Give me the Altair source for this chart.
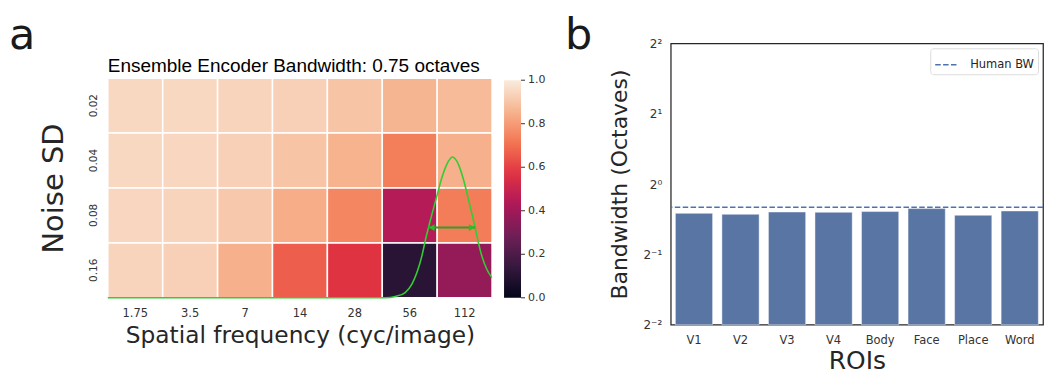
import altair as alt
import pandas as pd

# ---------------- panel a: heatmap data ----------------
sf_labels = ["1.75", "3.5", "7", "14", "28", "56", "112"]
noise_labels = ["0.02", "0.04", "0.08", "0.16"]
acc_002 = [0.95, 0.95, 0.94, 0.93, 0.90, 0.86, 0.875]
acc_004 = [0.95, 0.945, 0.93, 0.90, 0.855, 0.735, 0.85]
acc_008 = [0.945, 0.94, 0.91, 0.84, 0.75, 0.45, 0.73]
acc_016 = [0.94, 0.93, 0.85, 0.665, 0.57, 0.11, 0.37]
rocket = ["#03051a", "#35193e", "#701f57", "#ad1759",
          "#e13342", "#f37651", "#f6b48f", "#faebdd"]
cbar_ticks = [0.0, 0.2, 0.4, 0.6, 0.8, 1.0]

# tuning curve (x in column units 0..7, y as fraction of heatmap height)
curve_x = [0.0, 5.055, 5.236, 5.418, 5.54, 5.631, 5.722, 5.782, 5.842, 5.904,
           5.995, 6.085, 6.176, 6.278, 6.387, 6.478, 6.569, 6.642, 6.691,
           6.751, 6.813, 6.904, 6.995]
curve_y = [0.0, 0.0, 0.006, 0.024, 0.062, 0.115, 0.191, 0.259, 0.320, 0.380,
           0.464, 0.547, 0.608, 0.641, 0.608, 0.540, 0.449, 0.373, 0.320,
           0.251, 0.191, 0.130, 0.092]
arrow_x = [5.842, 6.691]
arrow_y = [0.32, 0.32]
head_x = [5.90, 6.63]
head_shape = ["triangle-left", "triangle-right"]

panel_a_title = ["Ensemble Encoder Bandwidth: 0.75 octaves"]

# ---------------- panel b: bar data ----------------
rois = ["V1", "V2", "V3", "V4", "Body", "Face", "Place", "Word"]
roi_bw = [0.749, 0.742, 0.759, 0.757, 0.762, 0.785, 0.735, 0.767]
human_bw = [0.796]
human_label = ["Human BW"]
ytick_vals = [0.25, 0.5, 1, 2, 4]
ytick_text = ["2\u207b\u00b2", "2\u207b\u00b9", "2\u2070", "2\u00b9", "2\u00b2"]

letters_a = ["a"]
letters_b = ["b"]

# ---------------- build tables ----------------
rows = []
for nl, vals in zip(noise_labels, [acc_002, acc_004, acc_008, acc_016]):
    for s, v in zip(sf_labels, vals):
        rows.append({"sf": s, "noise": nl, "acc": v})
heat_df = pd.DataFrame(rows)
curve_df = pd.DataFrame({"x": curve_x, "y": curve_y})
arrow_df = pd.DataFrame({"x": arrow_x, "y": arrow_y})
head_df = pd.DataFrame({"x": head_x, "y": arrow_y, "shape": head_shape})
cbtick_df = pd.DataFrame({"v": cbar_ticks})
bar_df = pd.DataFrame({"roi": rois, "bw": roi_bw})
human_df = pd.DataFrame({"bw": human_bw, "label": human_label})

TXT = "#262626"
LBL = "#333333"

# panel a group is 255 px tall; the heatmap fills its lower 220 px
HM_TOP, HM_BOT = 35, 255
CB_X, CB_W, CB_TOP, CB_LEN = 397, 17, HM_TOP + 2, 218

heat = alt.Chart(heat_df).mark_rect(stroke="white", strokeWidth=1.5).encode(
    x=alt.X("sf:O", sort=sf_labels, title="Spatial frequency (cyc/image)",
            scale=alt.Scale(paddingInner=0, paddingOuter=0),
            axis=alt.Axis(labelAngle=0, labelFontSize=11.5, labelColor=LBL,
                          ticks=False, tickSize=0, domain=False, labelPadding=10,
                          titleFontSize=23.3, titleColor=TXT, titleFontWeight="normal",
                          titlePadding=5)),
    y=alt.Y("noise:O", sort=noise_labels, title="Noise SD",
            scale=alt.Scale(paddingInner=0, paddingOuter=0, range=[HM_TOP, HM_BOT]),
            axis=alt.Axis(labelAngle=270, labelAlign="center", labelBaseline="bottom",
                          labelFontSize=10.5, labelColor=LBL, ticks=False, tickSize=0,
                          domain=False, labelPadding=9, titleFontSize=29,
                          titleColor=TXT, titleFontWeight="normal", titlePadding=20)),
    color=alt.Color("acc:Q",
                    scale=alt.Scale(domain=[0, 1], range=rocket, interpolate="rgb"),
                    legend=alt.Legend(title=None, orient="none", legendX=CB_X,
                                      legendY=CB_TOP,
                                      direction="vertical", gradientLength=CB_LEN,
                                      gradientThickness=CB_W, gradientStrokeWidth=0,
                                      values=cbar_ticks, labelExpr="''",
                                      labelFontSize=11, labelOffset=7,
                                      labelOpacity=0, padding=0)),
)

xq = alt.Scale(domain=[0, 7], nice=False, zero=False)
yq = alt.Scale(domain=[0, 1], nice=False, zero=False, range=[HM_BOT, HM_TOP])
ycb = alt.Scale(domain=[0, 1], nice=False, zero=False,
                range=[CB_TOP + CB_LEN, CB_TOP])

curve = alt.Chart(curve_df).mark_line(color="#33cc33", strokeWidth=1.6,
                                      interpolate="monotone").encode(
    x=alt.X("x:Q", scale=xq, axis=None),
    y=alt.Y("y:Q", scale=yq, axis=None),
)
arrow = alt.Chart(arrow_df).mark_line(color="#2e9e2e", strokeWidth=2).encode(
    x=alt.X("x:Q", scale=xq, axis=None),
    y=alt.Y("y:Q", scale=yq, axis=None),
)
heads = alt.Chart(head_df).mark_point(filled=True, color="#1fc41f", size=45,
                                      opacity=1).encode(
    x=alt.X("x:Q", scale=xq, axis=None),
    y=alt.Y("y:Q", scale=yq, axis=None),
    shape=alt.Shape("shape:N", scale=alt.Scale(domain=head_shape, range=head_shape),
                    legend=None),
)
# colour-bar tick marks and tick labels (centred on their ticks, as in the source)
cb_ticks = alt.Chart(cbtick_df).mark_rule(color=LBL, strokeWidth=1).encode(
    y=alt.Y("v:Q", scale=ycb, axis=None),
    x=alt.value(CB_X + CB_W), x2=alt.value(CB_X + CB_W + 4),
)
cb_labels = alt.Chart(cbtick_df).mark_text(
    fontSize=11, color=LBL, align="left", baseline="middle").encode(
    y=alt.Y("v:Q", scale=ycb, axis=None),
    text=alt.Text("v:Q", format=".1f"),
    x=alt.value(CB_X + CB_W + 7),
)
title_a = alt.Chart(pd.DataFrame({"t": panel_a_title})).mark_text(
    fontSize=19, font="Liberation Sans", color="black", align="left",
    baseline="alphabetic").encode(text="t:N", x=alt.value(0), y=alt.value(28.7))
letter_a = alt.Chart(pd.DataFrame({"t": letters_a})).mark_text(
    fontSize=43, font="DejaVu Sans", color="#1a1a1a", align="left",
    baseline="top").encode(text="t:N", x=alt.value(-99), y=alt.value(-28))

panel_a = alt.layer(heat, curve, arrow, heads, cb_ticks, cb_labels, title_a,
                    letter_a).resolve_scale(
    x="independent", y="independent").properties(
    width=385, height=HM_BOT,
    view=alt.ViewBackground(stroke="transparent"),
)

expr = " : ".join(
    [f"datum.value == {v} ? '{t}'" for v, t in zip(ytick_vals[1:], ytick_text[1:])]
) + f" : '{ytick_text[0]}'"

bars = alt.Chart(bar_df).mark_bar(color="#5975A4", stroke="white", strokeWidth=1,
                                  strokeOpacity=0.45).encode(
    x=alt.X("roi:N", sort=rois, title="ROIs",
            scale=alt.Scale(paddingInner=0.2, paddingOuter=0.1),
            axis=alt.Axis(labelAngle=0, labelFontSize=11.5, labelColor=LBL,
                          ticks=False, tickSize=0, domain=False, labelPadding=10,
                          titleFontSize=25, titleColor=TXT, titleFontWeight="normal",
                          titlePadding=2)),
    y=alt.Y("bw:Q", title="Bandwidth (Octaves)",
            scale=alt.Scale(type="log", base=2, domain=[0.25, 4], nice=False),
            axis=alt.Axis(values=ytick_vals, labelExpr=expr, grid=False, ticks=False,
                          tickSize=0, domain=False, labelFontSize=12, labelColor=LBL,
                          labelPadding=9, titleFontSize=22, titleColor=TXT,
                          titleFontWeight="normal", titlePadding=12)),
    y2=alt.datum(0.25),
)
rule = alt.Chart(human_df).mark_rule(strokeDash=[5.5, 2.4], strokeWidth=1.5).encode(
    y=alt.Y("bw:Q", title="Bandwidth (Octaves)"),
    color=alt.Color("label:N", scale=alt.Scale(range=["#4C72B0"]),
                    legend=alt.Legend(title=None, orient="top-right", offset=5,
                                      symbolType="stroke", symbolSize=529,
                                      symbolStrokeWidth=1.5, symbolDash=[5.5, 2.4],
                                      labelFontSize=11.5, labelColor=TXT,
                                      labelOffset=11, padding=4,
                                      strokeColor="#dddddd", fillColor="white",
                                      cornerRadius=3)),
)
letter_b = alt.Chart(pd.DataFrame({"t": letters_b})).mark_text(
    fontSize=43, font="DejaVu Sans", color="#1a1a1a", align="left",
    baseline="top").encode(text="t:N", x=alt.value(-106), y=alt.value(-28))

panel_b = alt.layer(bars, rule, letter_b).properties(
    width=373, height=282,
    view=alt.ViewBackground(stroke="#262626", strokeWidth=1.25),
)

chart = alt.hconcat(panel_a, panel_b, spacing=18,
                    padding={"top": 6, "left": 0, "right": 0, "bottom": 0}).configure(
    font="DejaVu Sans", background="white"
).configure_view(stroke="transparent")

chart.save("out.html", embed_options={"renderer": "svg", "actions": False})
